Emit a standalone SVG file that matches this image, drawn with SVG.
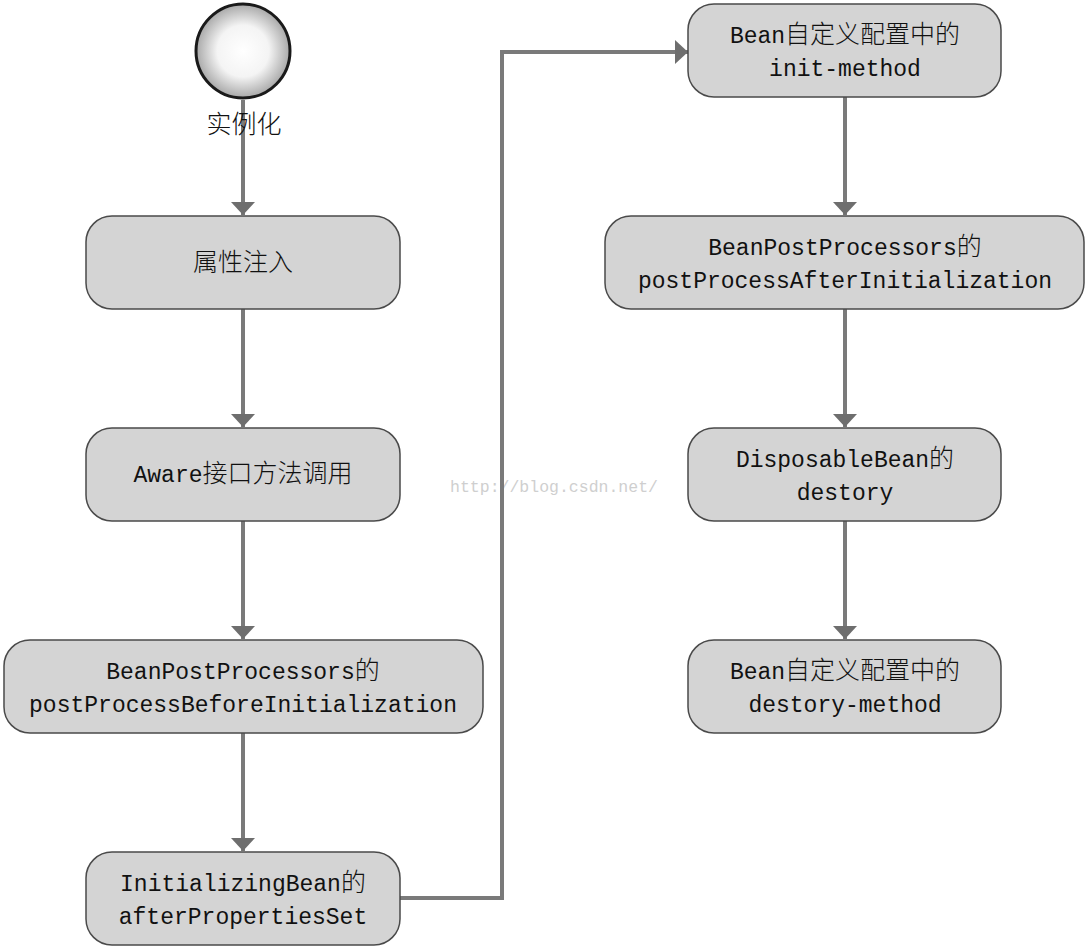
<svg xmlns="http://www.w3.org/2000/svg" width="1088" height="948" viewBox="0 0 1088 948">
<defs>
<radialGradient id="g" cx="0.5" cy="0.5" r="0.5">
<stop offset="0" stop-color="#ffffff"/>
<stop offset="0.55" stop-color="#f4f4f4"/>
<stop offset="1" stop-color="#a8a8a8"/>
</radialGradient>
<marker id="ah" markerUnits="userSpaceOnUse" markerWidth="26" markerHeight="26" viewBox="0 0 26 26" refX="24" refY="13" orient="auto">
<path d="M11 1 L24 13 L11 25 Z" fill="#6e6e6e"/>
</marker>
</defs>
<style>
.box{fill:#d4d4d4;stroke:#4a4a4a;stroke-width:1.5}
.t{font-family:"Liberation Mono","Noto Sans CJK SC",monospace;font-size:23px;fill:#111;text-anchor:middle}
.c{font-family:"Noto Sans CJK SC",sans-serif;font-size:25px;font-weight:300}
.conn{fill:none;stroke:#7a7a7a;stroke-width:4}
</style>
<rect width="1088" height="948" fill="#ffffff"/>
<text x="554" y="492" style="font-family:'Liberation Mono',monospace;font-size:16.5px;fill:#cfcfcf;text-anchor:middle">http://blog.csdn.net/</text>
<g id="connectors">
<path class="conn" d="M243 100 V215" marker-end="url(#ah)"/>
<path class="conn" d="M243 309 V427" marker-end="url(#ah)"/>
<path class="conn" d="M243 521 V639" marker-end="url(#ah)"/>
<path class="conn" d="M243 733 V851" marker-end="url(#ah)"/>
<path class="conn" d="M400 898 H502 V52 H688" marker-end="url(#ah)"/>
<path class="conn" d="M845 97 V215" marker-end="url(#ah)"/>
<path class="conn" d="M845 309 V427" marker-end="url(#ah)"/>
<path class="conn" d="M845 521 V639" marker-end="url(#ah)"/>
</g>
<g id="start">
<circle cx="243" cy="51" r="47" fill="url(#g)" stroke="#1a1a1a" stroke-width="3"/>
<text class="t" x="244" y="133"><tspan class="c">实例化</tspan></text>
</g>
<g id="n1">
<rect class="box" x="86" y="216" width="314" height="93" rx="26"/>
<text class="t" x="243" y="271"><tspan class="c">属性注入</tspan></text>
</g>
<g id="n2">
<rect class="box" x="86" y="428" width="314" height="93" rx="26"/>
<text class="t" x="243" y="482">Aware<tspan class="c">接口方法调用</tspan></text>
</g>
<g id="n3">
<rect class="box" x="4" y="640" width="479" height="93" rx="26"/>
<text class="t" x="243" y="679">BeanPostProcessors<tspan class="c">的</tspan></text>
<text class="t" x="243" y="712">postProcessBeforeInitialization</text>
</g>
<g id="n4">
<rect class="box" x="86" y="852" width="314" height="93" rx="26"/>
<text class="t" x="243" y="891">InitializingBean<tspan class="c">的</tspan></text>
<text class="t" x="243" y="924">afterPropertiesSet</text>
</g>
<g id="n5">
<rect class="box" x="688" y="4" width="313" height="93" rx="26"/>
<text class="t" x="845" y="43">Bean<tspan class="c">自定义配置中的</tspan></text>
<text class="t" x="845" y="76">init-method</text>
</g>
<g id="n6">
<rect class="box" x="605" y="216" width="479" height="93" rx="26"/>
<text class="t" x="845" y="255">BeanPostProcessors<tspan class="c">的</tspan></text>
<text class="t" x="845" y="288">postProcessAfterInitialization</text>
</g>
<g id="n7">
<rect class="box" x="688" y="428" width="313" height="93" rx="26"/>
<text class="t" x="845" y="467">DisposableBean<tspan class="c">的</tspan></text>
<text class="t" x="845" y="500">destory</text>
</g>
<g id="n8">
<rect class="box" x="688" y="640" width="313" height="93" rx="26"/>
<text class="t" x="845" y="679">Bean<tspan class="c">自定义配置中的</tspan></text>
<text class="t" x="845" y="712">destory-method</text>
</g>
</svg>
